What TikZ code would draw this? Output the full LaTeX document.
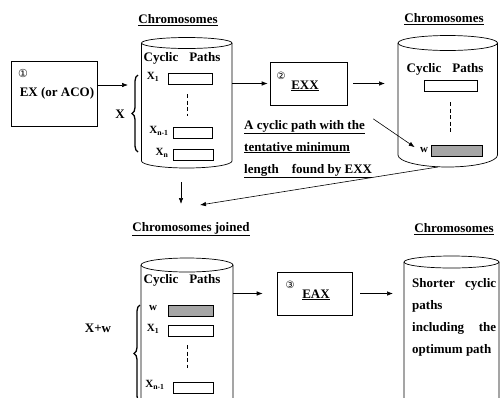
\documentclass[tikz,border=0pt]{standalone}
\usepackage{fontspec}
\setmainfont{Liberation Serif}
\newfontfamily\circfont{DejaVu Sans}
\usetikzlibrary{arrows.meta,decorations.pathreplacing,positioning}

\begin{document}
\begin{tikzpicture}
      [x=1pt,y=-1pt,
       every node/.style={font=\fontsize{13}{15}\selectfont\bfseries,inner sep=1pt},
       rowlab/.style={font=\fontsize{11}{13}\selectfont\bfseries},
       procbox/.style={draw,line width=0.6pt},
       slot/.style={draw,line width=0.6pt,inner sep=0pt,minimum height=11pt},
       bestslot/.style={slot,fill=black!35},
       cylbody/.style={inner sep=0pt,outer sep=0pt},
       arr/.style={-{Latex[length=6pt,width=4.5pt]},line width=0.6pt},
       brace/.style={decorate,decoration={brace,amplitude=6pt},line width=1.3pt},
       dots/.style={line width=1pt,dash pattern=on 4pt off 2.5pt}]
      \clip (0,0) rectangle (500,397);

      % titles
      \node (tA) at (178,20) {\underline{Chromosomes}};
      \node (tB) at (444,19) {\underline{Chromosomes}};
      \node (tC) at (191,229) {\underline{Chromosomes joined}};
      \node (tD) at (454,229) {\underline{Chromosomes}};

      % cylinders
      \node [cylbody,minimum width=90.5pt,minimum height=125pt] (cylA) at (186.75,105.5) {};
      \draw [line width=0.7pt] (cylA.north) ellipse [x radius=45.25pt,y radius=5.5pt];
      \draw [line width=0.7pt] (cylA.north west) -- ++(0,118)
            arc [start angle=180,end angle=360,x radius=45.25pt,y radius=7pt] -- (cylA.north east);

      \node [cylbody,minimum width=99.5pt,minimum height=124pt] (cylB) at (447.75,105) {};
      \draw [line width=0.7pt] (cylB.north) ellipse [x radius=49.75pt,y radius=7.5pt];
      \draw [line width=0.7pt] (cylB.north west) -- ++(0,112)
            arc [start angle=180,end angle=360,x radius=49.75pt,y radius=12pt] -- (cylB.north east);

      \node [cylbody,minimum width=92pt,minimum height=140pt] (cylC) at (187,335) {};
      \draw [line width=0.7pt] (cylC.north) ellipse [x radius=46pt,y radius=7pt];
      \draw [line width=0.7pt] (cylC.north west) -- ++(0,133)
            arc [start angle=180,end angle=360,x radius=46pt,y radius=7pt] -- (cylC.north east);

      \node [cylbody,minimum width=95pt,minimum height=142pt] (cylD) at (451.5,333) {};
      \draw [line width=0.7pt] (cylD.north) ellipse [x radius=47.5pt,y radius=6pt];
      \draw [line width=0.7pt] (cylD.north west) -- ++(0,136)
            arc [start angle=180,end angle=360,x radius=47.5pt,y radius=6pt] -- (cylD.north east);

      % contents of the first cylinder
      \node (hdA) at (182,58) {Cyclic\hspace{11pt}Paths};
      \node [rowlab] (x1A) at (153,77) {X\textsubscript{1}};
      \node [slot,minimum width=44pt] (s1A) at (190,78.5) {};
      \draw [dots] (187,94) -- (187,116);
      \node [rowlab] (xn1A) at (159,131) {X\textsubscript{n-1}};
      \node [slot,minimum width=39pt] (s2A) at (192.5,133) {};
      \node [rowlab] (xnA) at (162,153) {X\textsubscript{n}};
      \node [slot,minimum width=40pt] (s3A) at (193,154.5) {};

      % contents of the second cylinder
      \node (hdB) at (445,69) {Cyclic\hspace{11pt}Paths};
      \node [slot,minimum width=53pt] (s1B) at (450.5,86) {};
      \draw [dots] (450,102) -- (450,133);
      \node [rowlab] (wB) at (424,150) {w};
      \node [bestslot,minimum width=51pt] (s2B) at (456.5,151) {};

      % contents of the joined cylinder
      \node (hdC) at (182,280) {Cyclic\hspace{11pt}Paths};
      \node [rowlab] (wC) at (153,308) {w};
      \node [bestslot,minimum width=45pt] (s1C) at (190.5,310.5) {};
      \node [rowlab] (x1C) at (153,329) {X\textsubscript{1}};
      \node [slot,minimum width=45pt] (s2C) at (190.5,331) {};
      \draw [dots] (187,345) -- (187,368);
      \node [rowlab] (xn1C) at (155,385) {X\textsubscript{n-1}};
      \node [slot,minimum width=40pt] (s3C) at (193,387.5) {};

      % contents of the last cylinder
      \node [align=left,anchor=west,font=\fontsize{13}{22}\selectfont\bfseries] (resD) at (411,317)
            {\makebox[84pt][s]{Shorter cyclic}\\ paths\\
             \makebox[84pt][s]{including the}\\ optimum path};

      % braces
      \draw [brace] (138,152) -- (138,75);
      \node (bX) at (120,114) {X};
      \draw [brace] (140,402) -- (140,305);
      \node (bXw) at (98,328) {X+w};

      % process boxes
      \node [procbox,minimum width=86pt,minimum height=65pt] (boxA) at (54,93.5) {};
      \node [font=\fontsize{11}{13}\selectfont\circfont] (nA) at (23,73) {①};
      \node (lA) at (57,93) {EX (or ACO)};

      \node [procbox,minimum width=77pt,minimum height=43pt] (boxB) at (308.5,83.5) {};
      \node [font=\fontsize{10}{12}\selectfont\circfont] (nB) at (281,76) {②};
      \node (lB) at (305,86) {\underline{EXX}};

      \node [procbox,minimum width=75pt,minimum height=43pt] (boxC) at (314.5,293.5) {};
      \node [font=\fontsize{10}{12}\selectfont\circfont] (nC) at (290,285) {③};
      \node (lC) at (316,295) {\underline{EAX}};

      % note on the tentative best path
      \node [align=left,anchor=west,font=\fontsize{13}{22}\selectfont\bfseries] (note) at (243,149)
            {\underline{A cyclic path with the}\\ \underline{tentative minimum}\\
             \underline{length\quad found by EXX}};

      % connectors
      \coordinate (inA) at (128,85);
      \draw [arr] (boxA.east |- inA) -- (inA);
      \draw [arr,shorten >=2pt] (cylA.east |- boxB.west) -- (boxB.west);
      \draw [arr,shorten <=6pt,shorten >=13pt] (boxB.east) -- (cylB.west |- boxB.east);
      \draw [arr,shorten >=5pt] (note.north east) -- (wB.west);
      \coordinate (joinTip) at (200,205);
      \draw [arr] ([xshift=-10pt]cylB.south) -- (joinTip);
      \coordinate (dropA) at (181,182);
      \draw [arr] (dropA) -- ++(0,22);
      \draw [arr,shorten >=14pt] (cylC.east |- boxC.west) -- (boxC.west);
      \draw [arr,shorten <=8pt,shorten >=11pt] (boxC.east) -- (cylD.west |- boxC.east);
    \end{tikzpicture}
\end{document}
